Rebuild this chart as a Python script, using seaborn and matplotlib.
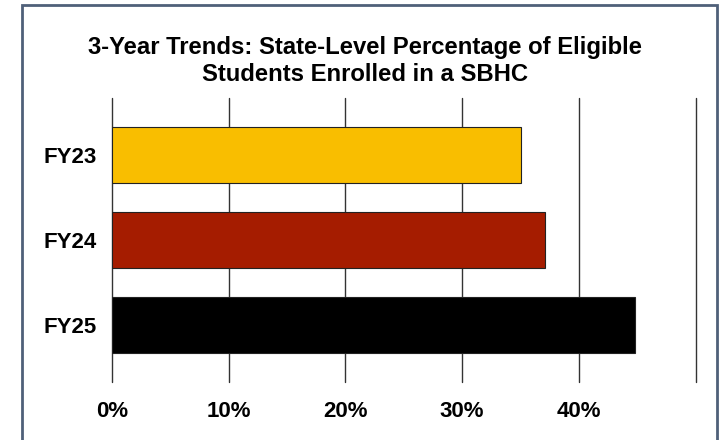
import matplotlib
matplotlib.use("Agg")
import matplotlib.pyplot as plt
import seaborn as sns
import pandas as pd
from matplotlib.patches import Rectangle

categories = ["FY23", "FY24", "FY25"]
values = [35.0, 37.1, 44.8]
colors = ["#F9BE00", "#A51C00", "#000000"]
x_ticks = [0, 10, 20, 30, 40, 50]
x_tick_labels = ["0%", "10%", "20%", "30%", "40%", ""]
title = "3-Year Trends: State-Level Percentage of Eligible\nStudents Enrolled in a SBHC"

sns.set_theme(style="white")
plt.rcParams["font.family"] = ["Liberation Sans", "DejaVu Sans"]

df = pd.DataFrame({"year": categories, "pct": values})

fig = plt.figure(figsize=(7.2, 4.4), dpi=100)
ax = fig.add_axes([111.8 / 720, 1 - 382 / 440, (695.7 - 111.8) / 720, (382 - 98) / 440])

sns.barplot(data=df, y="year", x="pct", hue="year", palette=colors, legend=False,
            orient="h", width=0.665, saturation=1, edgecolor="#222222", linewidth=0.8,
            ax=ax, zorder=3)

ax.set_xlim(0, 50)
ax.set_ylim(2.67, -0.67)
ax.set_xticks(x_ticks)
ax.set_xticklabels(x_tick_labels)
for x in x_ticks:
    ax.axvline(x, color="#333333", linewidth=1.0, zorder=1, clip_on=False)
for s in ax.spines.values():
    s.set_visible(False)
ax.set_xlabel("")
ax.set_ylabel("")
ax.tick_params(axis="both", length=0, labelsize=16)
ax.tick_params(axis="x", pad=14)
ax.tick_params(axis="y", pad=10.5)
for lbl in ax.get_xticklabels() + ax.get_yticklabels():
    lbl.set_fontweight("bold")
    lbl.set_color("black")

fig.text(365 / 720, 1 - 61 / 440, title, ha="center", va="center",
         fontsize=17.2, fontweight="bold", color="black", linespacing=1.17)

fig.patches.append(Rectangle((22 / 720, -0.05), (717 - 22) / 720, 1.05 - 5 / 440,
                             transform=fig.transFigure, fill=False,
                             edgecolor="#4F6079", linewidth=2.0, zorder=10))

fig.savefig("out.png", dpi=100)
